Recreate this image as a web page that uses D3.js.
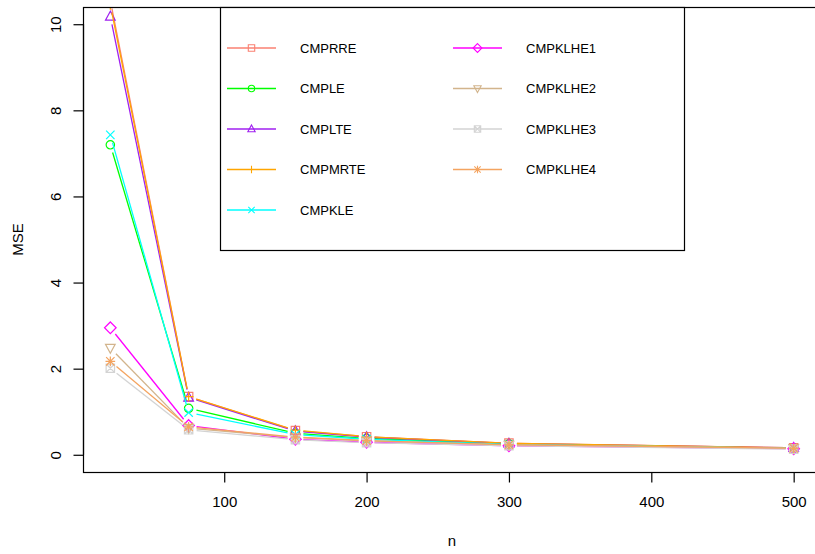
<!DOCTYPE html>
<html>
<head>
<meta charset="utf-8">
<script src="https://cdn.jsdelivr.net/npm/d3@7"></script>
<style>
  body { margin: 0; background: #fff; }
  text { font-family: "Liberation Sans", Arial, sans-serif; fill: #000; }
</style>
</head>
<body>
<div id="chart"></div>
<script>
// sample sizes and MSE per estimator
const nValues = [20, 75, 150, 200, 300, 500];
const seriesNames = ['CMPRRE', 'CMPLE', 'CMPLTE', 'CMPMRTE', 'CMPKLE',
                     'CMPKLHE1', 'CMPKLHE2', 'CMPKLHE3', 'CMPKLHE4'];
const CMPRRE   = [10.55, 1.35, 0.56, 0.42, 0.27, 0.16];
const CMPLE    = [7.20, 1.08, 0.50, 0.38, 0.25, 0.15];
const CMPLTE   = [10.18, 1.33, 0.55, 0.41, 0.26, 0.16];
const CMPMRTE  = [10.45, 1.35, 0.57, 0.42, 0.27, 0.16];
const CMPKLE   = [7.43, 0.98, 0.47, 0.36, 0.24, 0.15];
const CMPKLHE1 = [2.95, 0.68, 0.36, 0.29, 0.21, 0.14];
const CMPKLHE2 = [2.48, 0.62, 0.40, 0.32, 0.23, 0.15];
const CMPKLHE3 = [2.01, 0.58, 0.35, 0.28, 0.21, 0.13];
const CMPKLHE4 = [2.17, 0.65, 0.41, 0.33, 0.23, 0.15];
const seriesValues = [CMPRRE, CMPLE, CMPLTE, CMPMRTE, CMPKLE,
                      CMPKLHE1, CMPKLHE2, CMPKLHE3, CMPKLHE4];
const colors = ['#FA8072', '#00FF00', '#A020F0', '#FFA500', '#00FFFF',
                '#FF00FF', '#D2B48C', '#D3D3D3', '#F4A460'];
const pchs = [0, 1, 2, 3, 4, 5, 6, 7, 8];
const xTicks = [100, 200, 300, 400, 500];
const yTicks = [0, 2, 4, 6, 8, 10];

const width = 815, height = 554;
const plot = { left: 83, top: 7, right: 821, bottom: 472 };

const svg = d3.select('#chart').append('svg')
    .attr('width', width).attr('height', height);

// R style: 4% padding around the range
const xs = d3.scaleLinear().domain([0.8, 519.2]).range([plot.left, plot.right]);
const ys = d3.scaleLinear().domain([-0.4, 10.4]).range([plot.bottom, plot.top]);

svg.append('defs').append('clipPath').attr('id', 'clip')
  .append('rect')
    .attr('x', plot.left).attr('y', plot.top)
    .attr('width', plot.right - plot.left).attr('height', plot.bottom - plot.top);

// draw an R pch symbol as a path
function symbolPath(pch, s) {
  const p = d3.path();
  const t = s * 1.15;
  switch (pch) {
    case 0: p.rect(-s, -s, 2 * s, 2 * s); break;
    case 1: p.arc(0, 0, s, 0, 2 * Math.PI); break;
    case 2:
      p.moveTo(0, -t * 1.1); p.lineTo(t, t * 0.75); p.lineTo(-t, t * 0.75); p.closePath(); break;
    case 3:
      p.moveTo(-t, 0); p.lineTo(t, 0); p.moveTo(0, -t); p.lineTo(0, t); break;
    case 4:
      p.moveTo(-s, -s); p.lineTo(s, s); p.moveTo(-s, s); p.lineTo(s, -s); break;
    case 5:
      p.moveTo(0, -t * 1.2); p.lineTo(t * 1.2, 0); p.lineTo(0, t * 1.2); p.lineTo(-t * 1.2, 0); p.closePath(); break;
    case 6:
      p.moveTo(0, t * 1.1); p.lineTo(t, -t * 0.75); p.lineTo(-t, -t * 0.75); p.closePath(); break;
    case 7:
      p.rect(-s, -s, 2 * s, 2 * s);
      p.moveTo(-s, -s); p.lineTo(s, s); p.moveTo(-s, s); p.lineTo(s, -s); break;
    case 8:
      p.moveTo(-t, 0); p.lineTo(t, 0); p.moveTo(0, -t); p.lineTo(0, t);
      p.moveTo(-s, -s); p.lineTo(s, s); p.moveTo(-s, s); p.lineTo(s, -s); break;
  }
  return p.toString();
}

// series: type = "b", segments with a gap around each point
const gap = 8;
const gPlot = svg.append('g').attr('clip-path', 'url(#clip)');
seriesValues.forEach((vals, i) => {
  const pts = vals.map((v, j) => [xs(nValues[j]), ys(v)]);
  const g = gPlot.append('g');
  const segs = d3.pairs(pts).map(([a, b]) => {
    const dx = b[0] - a[0], dy = b[1] - a[1];
    const len = Math.hypot(dx, dy);
    const ux = dx / len, uy = dy / len;
    return len > 2 * gap ? [a[0] + ux * gap, a[1] + uy * gap, b[0] - ux * gap, b[1] - uy * gap] : null;
  }).filter(d => d);
  g.selectAll('line').data(segs).enter().append('line')
    .attr('x1', d => d[0]).attr('y1', d => d[1])
    .attr('x2', d => d[2]).attr('y2', d => d[3])
    .attr('stroke', colors[i]).attr('stroke-width', 1.3);
  g.selectAll('path').data(pts).enter().append('path')
    .attr('transform', d => `translate(${d[0]},${d[1]})`)
    .attr('d', symbolPath(pchs[i], 4.2))
    .attr('fill', 'none').attr('stroke', colors[i]).attr('stroke-width', 1.2);
});

// box
svg.append('rect')
  .attr('x', plot.left + 0.5).attr('y', plot.top + 0.5)
  .attr('width', plot.right - plot.left).attr('height', plot.bottom - plot.top)
  .attr('fill', 'none').attr('stroke', '#000').attr('stroke-width', 1.2);

// axes
const xAxis = svg.append('g').attr('transform', `translate(0,${plot.bottom + 0.5})`)
  .call(d3.axisBottom(xs).tickValues(xTicks).tickSize(10).tickPadding(14).tickFormat(d3.format('d')));
xAxis.select('.domain').attr('d', `M${xs(100)},0H${xs(500)}`).attr('stroke-width', 1.2);
xAxis.selectAll('.tick line').attr('stroke-width', 1.2);
xAxis.selectAll('text').attr('font-size', 15).attr('font-family', '"Liberation Sans", Arial, sans-serif').attr('fill', '#000');

const yAxis = svg.append('g').attr('transform', `translate(${plot.left + 0.5},0)`)
  .call(d3.axisLeft(ys).tickValues(yTicks).tickSize(10));
yAxis.select('.domain').attr('d', `M0,${ys(0)}V${ys(10)}`).attr('stroke-width', 1.2);
yAxis.selectAll('.tick line').attr('stroke-width', 1.2);
yAxis.selectAll('.tick text')
  .attr('x', null).attr('dy', null)
  .attr('transform', 'translate(-23,0) rotate(-90)')
  .attr('text-anchor', 'middle')
  .attr('font-size', 15).attr('font-family', '"Liberation Sans", Arial, sans-serif').attr('fill', '#000');

svg.append('text').attr('x', 452).attr('y', 546)
  .attr('text-anchor', 'middle').attr('font-size', 15).text('n');
svg.append('text')
  .attr('transform', `translate(23,${(plot.top + plot.bottom) / 2}) rotate(-90)`)
  .attr('text-anchor', 'middle').attr('font-size', 15).text('MSE');

// legend
const legend = svg.append('g');
legend.append('rect')
  .attr('x', 220.5).attr('y', 7.5).attr('width', 464).attr('height', 243)
  .attr('fill', '#fff').attr('stroke', '#000').attr('stroke-width', 1.2);
const rowY = [48, 88.5, 129, 169.5, 210];
const colX = [227, 453];
seriesNames.forEach((name, i) => {
  const col = i < 5 ? 0 : 1;
  const row = i < 5 ? i : i - 5;
  const x0 = colX[col], y0 = rowY[row];
  legend.append('line')
    .attr('x1', x0).attr('x2', x0 + 49).attr('y1', y0).attr('y2', y0)
    .attr('stroke', colors[i]).attr('stroke-width', 1.3);
  legend.append('path')
    .attr('transform', `translate(${x0 + 24.5},${y0})`)
    .attr('d', symbolPath(pchs[i], 3.2))
    .attr('fill', 'none').attr('stroke', colors[i]).attr('stroke-width', 1.1);
  legend.append('text')
    .attr('x', x0 + 73).attr('y', y0 + 4.5)
    .attr('font-size', 13).text(name);
});
</script>
</body>
</html>
